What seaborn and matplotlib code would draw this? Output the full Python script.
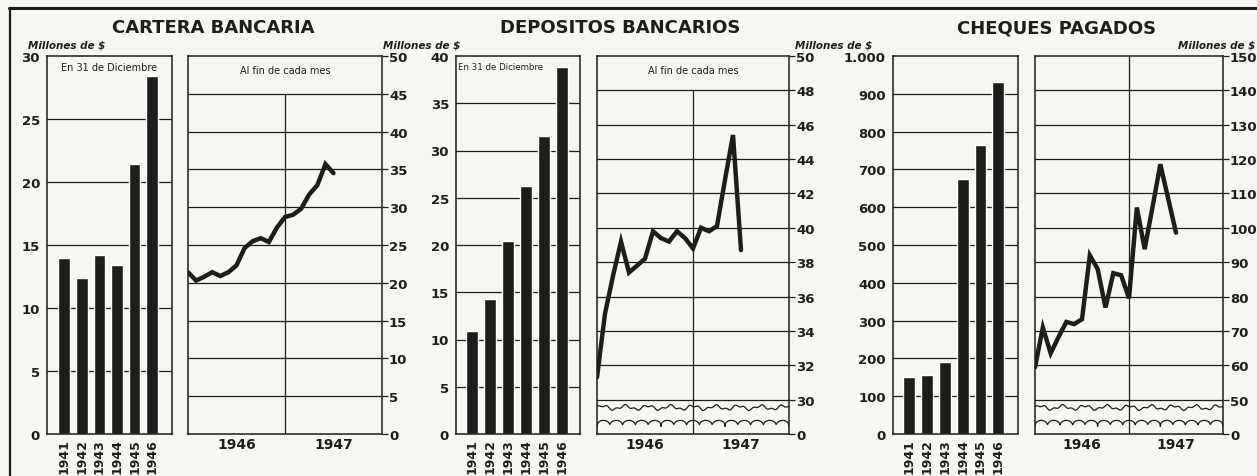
import numpy as np
import pandas as pd
import seaborn as sns
import matplotlib
matplotlib.use('Agg')
import matplotlib.pyplot as plt
from matplotlib.lines import Line2D

# ---- data ----
years = ['1941', '1942', '1943', '1944', '1945', '1946']
cartera_anual = [14.0, 12.4, 14.2, 13.4, 21.4, 28.4]
depositos_anual = [10.9, 14.3, 20.4, 26.2, 31.5, 38.8]
cheques_anual = [152, 157, 190, 674, 764, 931]

# end of each month, Jan 1946 .. Jul 1947 (month index from Jan 1946)
meses = list(range(19))
cartera_mes = [21.4, 20.3, 20.8, 21.4, 20.9, 21.4, 22.3, 24.6, 25.5, 25.9,
               25.4, 27.3, 28.7, 29.0, 29.8, 31.7, 32.9, 35.7, 34.5]
depositos_mes = [31.3, 35.0, 37.2, 39.2, 37.4, 37.8, 38.2, 39.8, 39.4, 39.2,
                 39.8, 39.4, 38.8, 40.0, 39.8, 40.1, 42.8, 45.4, 38.7]
cheques_mes = [59.4, 71.0, 63.5, 68.2, 72.6, 72.0, 73.4, 92.0, 88.0, 76.8,
               86.8, 86.2, 79.5, 105.9, 93.8, 106.0, 118.5, 108.5, 98.6]

cartera_bar_ticks = [0, 5, 10, 15, 20, 25, 30]
cartera_line_ticks = [0, 5, 10, 15, 20, 25, 30, 35, 40, 45, 50]
depositos_bar_ticks = [0, 5, 10, 15, 20, 25, 30, 35, 40]
depositos_line_ticks = [28, 30, 32, 34, 36, 38, 40, 42, 44, 46, 48, 50]
depositos_line_labels = ['0', '30', '32', '34', '36', '38', '40', '42', '44', '46', '48', '50']
cheques_bar_ticks = [0, 100, 200, 300, 400, 500, 600, 700, 800, 900, 1000]
cheques_bar_labels = ['0', '100', '200', '300', '400', '500', '600', '700', '800', '900', '1.000']
cheques_line_ticks = [40, 50, 60, 70, 80, 90, 100, 110, 120, 130, 140, 150]
cheques_line_labels = ['0', '50', '60', '70', '80', '90', '100', '110', '120', '130', '140', '150']

INK = '#1f1d1c'
PAPER = '#f8f6f0'

sns.set_style('white')
plt.rcParams['font.family'] = ['DejaVu Sans']
plt.rcParams['font.weight'] = 'bold'
plt.rcParams['axes.edgecolor'] = INK
plt.rcParams['axes.linewidth'] = 1.1
plt.rcParams['xtick.color'] = INK
plt.rcParams['ytick.color'] = INK
plt.rcParams['text.color'] = INK

W, H = 1257, 477
fig = plt.figure(figsize=(W / 100, H / 100), dpi=100, facecolor=PAPER)


def rect(x0, x1, y0=57, y1=435):
    return [x0 / W, 1 - y1 / H, (x1 - x0) / W, (y1 - y0) / H]


def bar_panel(r, values, ticks, labels, xlim, note=None, note_x=0.5, note_ha='center',
              note_size=7):
    ax = fig.add_axes(r, facecolor=PAPER)
    df = pd.DataFrame({'year': years, 'value': values})
    sns.barplot(data=df, x='year', y='value', color=INK, saturation=1,
                width=0.66, ax=ax, zorder=2)
    ax.set_xlim(*xlim)
    ax.set_ylim(ticks[0], ticks[-1])
    ax.set_yticks(ticks)
    ax.set_yticklabels(labels, fontsize=9.5)
    for t in ticks[1:-1]:
        ax.axhline(t, color=INK, lw=0.9, zorder=0)
    ax.tick_params(axis='y', direction='out', length=4, width=0.9, pad=1)
    ax.tick_params(axis='x', length=0, rotation=90, labelsize=9, pad=3)
    ax.set_xlabel('')
    ax.set_ylabel('')
    if note:
        ax.text(note_x, 0.985, note, transform=ax.transAxes, ha=note_ha, va='top',
                fontsize=note_size, fontweight='normal')
    return ax


def line_panel(r, values, ticks, labels, grid, vtop, note=None, broken=False):
    ax = fig.add_axes(r, facecolor=PAPER)
    df = pd.DataFrame({'mes': meses, 'valor': values})
    sns.lineplot(data=df, x='mes', y='valor', color=INK, lw=3.2, ax=ax, zorder=3,
                 solid_joinstyle='miter')
    ax.set_xlim(0, 24)
    ax.set_ylim(ticks[0], ticks[-1])
    ax.yaxis.tick_right()
    ax.set_yticks(ticks)
    ax.set_yticklabels(labels, fontsize=9.5)
    ax.tick_params(axis='y', direction='out', length=4, width=0.9, pad=1)
    for g in grid:
        ax.axhline(g, color=INK, lw=0.9, zorder=1)
    ax.axvline(12, ymax=vtop, color=INK, lw=0.9, zorder=1)
    ax.set_xticks([3, 6, 9, 15, 18, 21])
    ax.set_xticklabels(['', '1946', '', '', '1947', ''], fontsize=10)
    ax.set_xticks([m for m in range(1, 24) if m % 3], minor=True)
    tall = 9 if broken else 6
    ax.tick_params(axis='x', which='major', direction='in', length=tall, width=0.9, pad=2)
    ax.tick_params(axis='x', which='minor', direction='in', length=3, width=0.9)
    ax.set_xlabel('')
    ax.set_ylabel('')
    if note:
        ax.text(0.5, 0.975, note, transform=ax.transAxes, ha='center', va='top',
                fontsize=7, fontweight='normal')
    if broken:
        # axis-break marks: wavy cut line and scalloped strip at the base
        xs = np.linspace(0, 1, 400)
        wave = 0.07 + 0.005 * np.sin(xs * 2 * np.pi * 8.5) + 0.003 * np.sin(xs * 2 * np.pi * 21 + 1.0)
        ax.plot(xs, wave, transform=ax.transAxes, color=INK, lw=0.9, zorder=2)
        scallop = 0.02 + 0.016 * np.abs(np.sin(np.pi * xs * 15)) ** 0.35
        ax.plot(xs, scallop, transform=ax.transAxes, color=INK, lw=0.9, zorder=2)
    return ax


# Cartera bancaria
bar_panel(rect(47, 172), cartera_anual, cartera_bar_ticks,
          [str(t) for t in cartera_bar_ticks], (-0.98, 6.12), note='En 31 de Diciembre')
line_panel(rect(188, 382), cartera_mes, cartera_line_ticks,
           [str(t) for t in cartera_line_ticks], cartera_line_ticks[1:-1], 0.9,
           note='Al fin de cada mes')

# Depositos bancarios
bar_panel(rect(456, 580), depositos_anual, depositos_bar_ticks,
          [str(t) for t in depositos_bar_ticks], (-0.88, 6.02),
          note='En 31 de Diciembre', note_x=0.02, note_ha='left', note_size=6.2)
line_panel(rect(597, 789), depositos_mes, depositos_line_ticks, depositos_line_labels,
           depositos_line_ticks[1:-1], 20 / 22, note='Al fin de cada mes', broken=True)

# Cheques pagados
bar_panel(rect(893, 1018), cheques_anual, cheques_bar_ticks, cheques_bar_labels, (-0.9, 6.1))
line_panel(rect(1035, 1223), cheques_mes, cheques_line_ticks, cheques_line_labels,
           cheques_line_ticks[1:-1], 1.0, broken=True)

# titles and unit labels
for x, t in [(213, 'CARTERA BANCARIA'), (620, 'DEPOSITOS BANCARIOS'), (1057, 'CHEQUES PAGADOS')]:
    fig.text(x / W, 1 - 28 / H, t, ha='center', va='center', fontsize=13)
for x, ha in [(28, 'left'), (383, 'left'), (795, 'left'), (1255, 'right')]:
    fig.text(x / W, 1 - 45 / H, 'Millones de $', ha=ha, va='center', fontsize=7.5,
             style='italic')

# frame of the printed page
fig.add_artist(Line2D([9 / W, 1], [1 - 9 / H, 1 - 9 / H], transform=fig.transFigure,
                      color=INK, lw=2.2))
fig.add_artist(Line2D([10 / W, 10 / W], [0, 1 - 9 / H], transform=fig.transFigure,
                      color=INK, lw=1.6))

fig.savefig('out.png', dpi=100, facecolor=PAPER)
